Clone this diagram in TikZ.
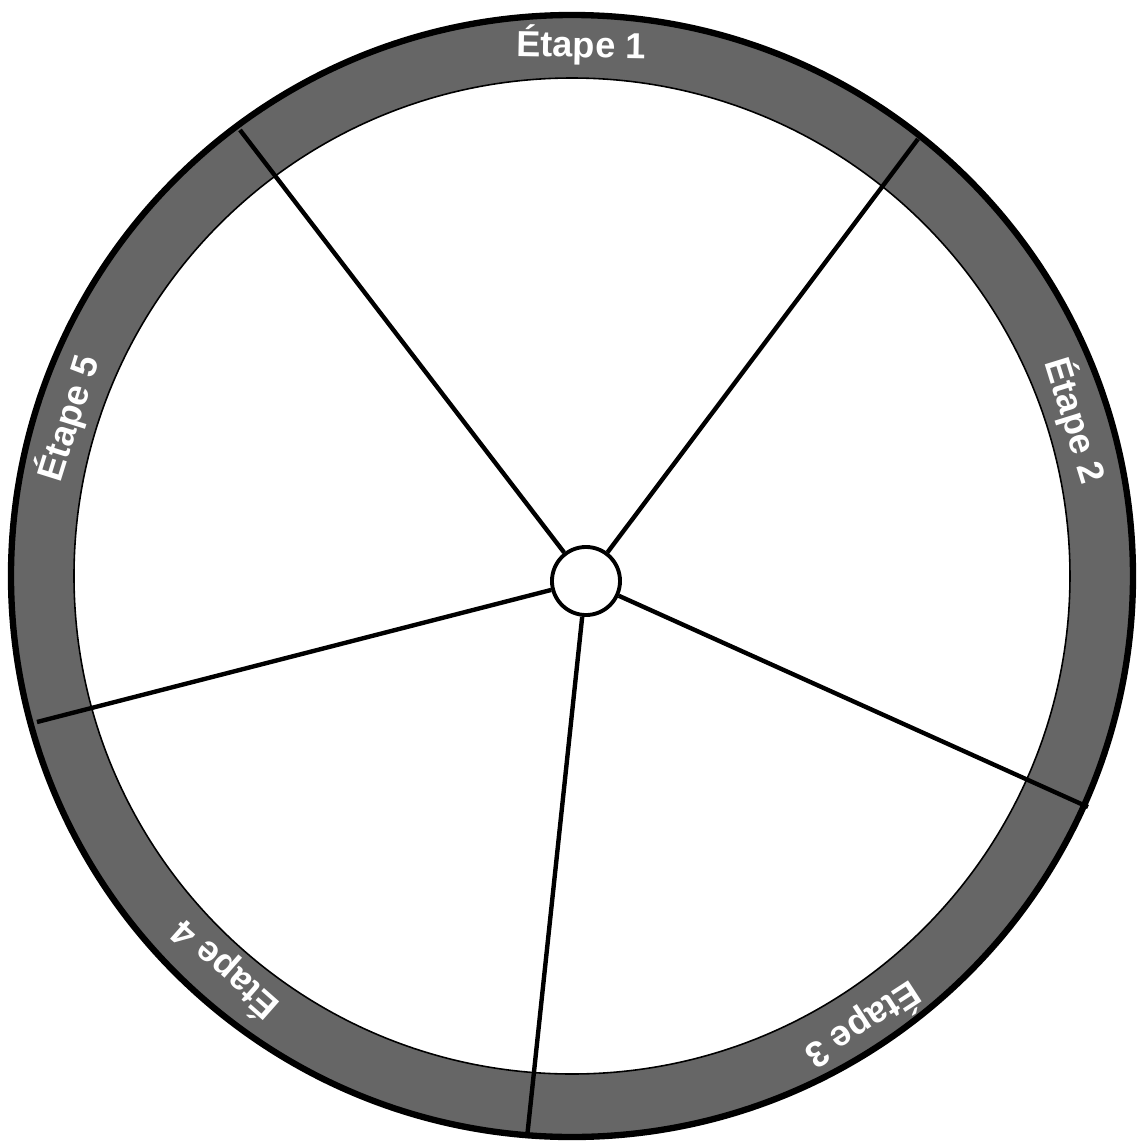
\documentclass[tikz,border=0pt]{standalone}
\usepackage{fontspec}
\setmainfont{Liberation Sans}
\usepackage{tikz}
\usetikzlibrary{positioning,calc}

\begin{document}
\begin{tikzpicture}[x=0.01cm, y=0.01cm, font=\bfseries\fontsize{10.3}{12}\selectfont]
\useasboundingbox (-572,-565) rectangle (568,576);
% rim and face
\draw[line width=1.8pt, fill=black!60] (0,0) circle (561);
\draw[line width=0.45pt, fill=white] (0,0) circle (498);
% hub and spokes
\node[circle, draw, line width=1.1pt, fill=white, minimum size=0.68cm, inner sep=0pt] (hub) at (14,-5) {};
\coordinate (s1) at (-332,446);
\coordinate (s2) at (346,437);
\coordinate (s3) at (516,-231);
\coordinate (s4) at (-45,-562);
\coordinate (s5) at (-535,-146);
\foreach \n in {1,...,5} \draw[line width=1.25pt] (hub) -- (s\n);
% stage labels on the rim
\foreach \a/\r/\t in {89/531/1, 17.2/527/2, -57/535/3, 228.6/525/4, 162.6/528/5}
  \node[text=white, rotate=\a-90] (lab\t) at (\a:\r) {Étape \t};
\end{tikzpicture}
\end{document}
